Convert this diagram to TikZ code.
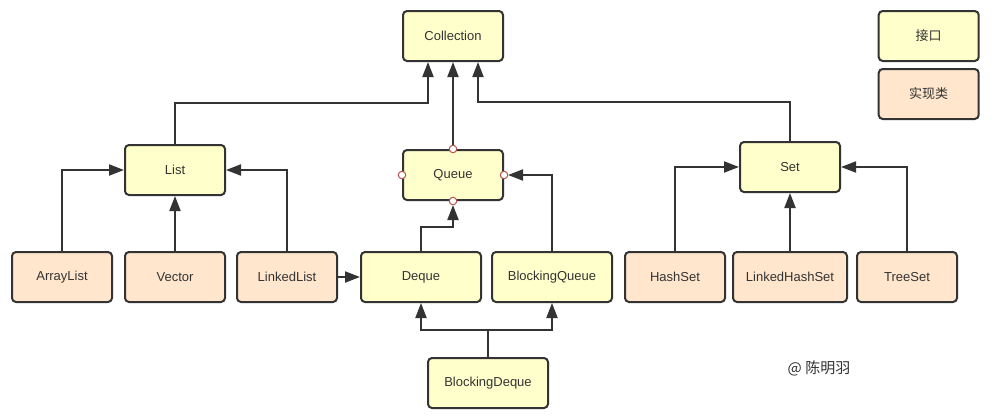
\documentclass[tikz,border=0pt]{standalone}
\usepackage{fontspec}
\setmainfont{Liberation Sans}
\newfontfamily\cjk{Noto Sans CJK SC}
\usetikzlibrary{arrows.meta}
\definecolor{ifc}{HTML}{FFFFCC}
\definecolor{impl}{HTML}{FFE6CC}
\definecolor{ink}{HTML}{333333}
\definecolor{port}{HTML}{B85450}
\tikzset{
  box/.style={draw=ink, line width=2pt, rounded corners=4pt, minimum height=50pt,
    minimum width=100pt, inner sep=0pt, text=ink, font=\fontsize{13}{15}\selectfont},
  ifbox/.style={box, fill=ifc},
  imbox/.style={box, fill=impl},
  arr/.style={draw=ink, line width=2pt, -{Triangle[length=15pt,width=11pt]}},
  plain/.style={draw=ink, line width=2pt},
  portdot/.style={circle, draw=port, fill=white, line width=1pt, minimum size=7.5pt, inner sep=0pt}
}
\begin{document}
\begin{tikzpicture}[x=1pt,y=-1pt]
\useasboundingbox (0,0) rectangle (997,418);
\fill[white] (0,0) rectangle (997,418);

% nodes
\node[ifbox] (coll) at (453,36) {Collection};
\node[ifbox] (legif) at (928.7,36) {\cjk 接口};
\node[imbox] (legim) at (928.7,94) {\cjk 实现类};
\node[ifbox] (list) at (175,170) {List};
\node[ifbox] (queue) at (453,175) {Queue};
\node[ifbox] (set) at (790,167) {Set};
\node[imbox] (arraylist) at (62,277) {ArrayList};
\node[imbox] (vector) at (175,277) {Vector};
\node[imbox] (linkedlist) at (287,277) {LinkedList};
\node[ifbox, minimum width=120pt] (deque) at (421,277) {Deque};
\node[ifbox, minimum width=120pt] (bqueue) at (552,277) {BlockingQueue};
\node[imbox] (hashset) at (675,277) {HashSet};
\node[imbox, minimum width=114pt] (lhset) at (790,277) {LinkedHashSet};
\node[imbox] (treeset) at (907,277) {TreeSet};
\node[ifbox, minimum width=120pt] (bdeque) at (488,383) {BlockingDeque};
\node[text=ink, font=\cjk\fontsize{15}{17}\selectfont] (credit) at (819,368) {@ 陈明羽};

% helper coordinates
\coordinate (collL) at ([xshift=-25pt]coll.south);
\coordinate (collR) at ([xshift=25pt]coll.south);
\coordinate (qS) at ([yshift=-4pt]queue.south);
\coordinate (qE) at ([xshift=4pt]queue.east);
\coordinate (bdJ) at (488,330);

% connectors to Collection
\draw[arr] (list.north) |- (collL |- 0,103) -- (collL);
\draw[arr] ([yshift=4pt]queue.north) -- (coll.south);
\draw[arr] (set.north) |- (collR |- 0,101.7) -- (collR);

% List family
\draw[arr] (arraylist.north) |- (list.west);
\draw[arr] (vector.north) -- (list.south);
\draw[arr] (linkedlist.north) |- (list.east);
\draw[arr] (linkedlist.east) -- (deque.west);

% Queue family
\draw[arr] (deque.north) |- (qS |- 0,227) -- (qS);
\draw[arr] (bqueue.north) |- (qE);
\draw[plain] (bdeque.north) -- (bdJ);
\draw[arr] (bdJ) -| (deque.south);
\draw[arr] (bdJ) -| (bqueue.south);

% Set family
\draw[arr] (hashset.north) |- (set.west);
\draw[arr] (lhset.north) -- (set.south);
\draw[arr] (treeset.north) |- (set.east);

% ports on Queue
\node[portdot] (p1) at (queue.north) {};
\node[portdot] (p2) at (queue.south) {};
\node[portdot] (p3) at (queue.west) {};
\node[portdot] (p4) at (queue.east) {};
\end{tikzpicture}
\end{document}
